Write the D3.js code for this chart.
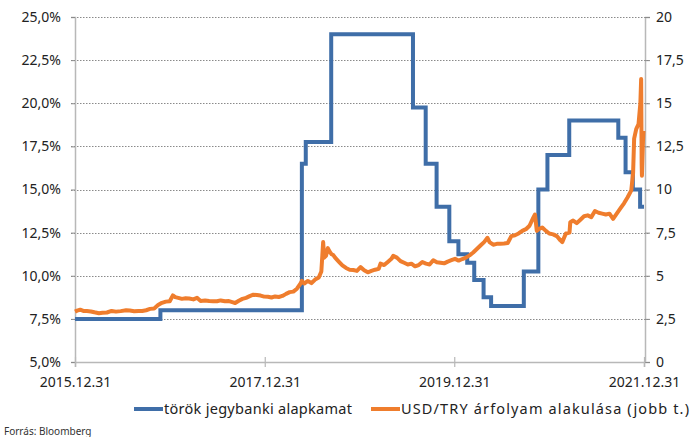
<!DOCTYPE html>
<meta charset="utf-8">
<script src="https://d3js.org/d3.v7.min.js"></script>
<style>
  body { margin: 0; background: #fff; }
  text { font-family: "Noto Sans", sans-serif; fill: #222; }
  .grid line { stroke: #8a8a8a; stroke-width: 1; stroke-dasharray: 1.5,1.5; }
  .axisline { stroke: #b8b8b8; stroke-width: 1.5; }
  .tick-lbl { font-size: 14px; }
  .legend { font-size: 14.5px; }
  .src { font-size: 10px; fill: #333; }
</style>
<div id="chart"></div>
<script>
// jegybanki alapkamat (%), kamatdöntések dátumai
const rateDates = ["2015-12-31","2016-11-24","2018-05-23","2018-06-07","2018-09-13","2019-07-25","2019-09-12","2019-10-24","2019-12-12","2020-01-16","2020-02-19","2020-03-17","2020-04-22","2020-05-21","2020-09-24","2020-11-19","2020-12-24","2021-03-18","2021-09-23","2021-10-21","2021-11-18","2021-12-16","2021-12-31"];
const rates = [7.5,8,16.5,17.75,24,19.75,16.5,14,12,11.25,10.75,9.75,8.75,8.25,10.25,15,17,19,18,16,15,14,14];

// USD/TRY árfolyam (jobb tengely)
const fxDates = ["2015-12-31","2016-01-08","2016-01-20","2016-02-01","2016-02-15","2016-03-01","2016-03-15","2016-04-01","2016-04-15","2016-05-02","2016-05-20","2016-06-06","2016-06-24","2016-07-15","2016-07-29","2016-08-15","2016-09-01","2016-09-15","2016-09-30","2016-10-15","2016-10-31","2016-11-15","2016-11-30","2016-12-15","2016-12-30",
"2017-01-11","2017-01-20","2017-02-01","2017-02-15","2017-03-01","2017-03-15","2017-03-31","2017-04-14","2017-04-28","2017-05-15","2017-05-31","2017-06-15","2017-06-30","2017-07-14","2017-07-31","2017-08-15","2017-08-31","2017-09-08","2017-09-22","2017-10-06","2017-10-20","2017-11-03","2017-11-17","2017-12-01","2017-12-15","2017-12-29",
"2018-01-12","2018-01-26","2018-02-09","2018-02-23","2018-03-09","2018-03-23","2018-04-06","2018-04-20","2018-05-04","2018-05-18","2018-05-23","2018-06-01","2018-06-15","2018-06-29","2018-07-13","2018-07-27","2018-08-06","2018-08-13","2018-08-17","2018-08-24","2018-08-31","2018-09-07","2018-09-14","2018-09-21","2018-09-28","2018-10-12","2018-10-26","2018-11-09","2018-11-23","2018-12-07","2018-12-21",
"2019-01-04","2019-01-18","2019-02-01","2019-02-15","2019-03-01","2019-03-15","2019-03-22","2019-04-05","2019-04-19","2019-05-03","2019-05-10","2019-05-24","2019-06-07","2019-06-21","2019-07-05","2019-07-19","2019-08-02","2019-08-16","2019-08-30","2019-09-13","2019-09-27","2019-10-11","2019-10-25","2019-11-08","2019-11-22","2019-12-06","2019-12-20",
"2020-01-03","2020-01-17","2020-01-31","2020-02-14","2020-02-28","2020-03-13","2020-03-27","2020-04-10","2020-04-24","2020-05-07","2020-05-15","2020-05-29","2020-06-12","2020-06-26","2020-07-10","2020-07-24","2020-08-07","2020-08-21","2020-09-04","2020-09-18","2020-10-02","2020-10-16","2020-10-30","2020-11-06","2020-11-13","2020-11-20","2020-12-04","2020-12-18","2020-12-31",
"2021-01-15","2021-01-29","2021-02-12","2021-02-19","2021-03-05","2021-03-19","2021-03-22","2021-04-02","2021-04-16","2021-04-30","2021-05-14","2021-05-28","2021-06-11","2021-06-25","2021-07-09","2021-07-23","2021-08-06","2021-08-20","2021-09-03","2021-09-17","2021-10-01","2021-10-15","2021-10-29","2021-11-12","2021-11-19","2021-11-23","2021-12-01","2021-12-10","2021-12-17","2021-12-20","2021-12-22","2021-12-23","2021-12-27","2021-12-29"];
const fxValues = [2.92,2.98,3.03,2.96,2.95,2.93,2.88,2.83,2.86,2.87,2.96,2.92,2.95,3.00,2.98,2.94,2.96,2.96,3.00,3.08,3.10,3.30,3.43,3.50,3.52,
3.86,3.76,3.72,3.66,3.69,3.68,3.63,3.72,3.54,3.56,3.53,3.52,3.52,3.57,3.52,3.53,3.46,3.42,3.55,3.66,3.72,3.82,3.90,3.88,3.85,3.79,
3.78,3.74,3.80,3.77,3.83,3.95,4.05,4.08,4.25,4.55,4.70,4.55,4.70,4.57,4.78,4.90,5.25,6.95,6.05,6.15,6.60,6.40,6.25,6.20,6.05,5.82,5.60,5.45,5.35,5.33,5.28,
5.50,5.32,5.20,5.28,5.35,5.40,5.70,5.62,5.80,5.98,6.15,6.05,5.85,5.75,5.65,5.70,5.55,5.62,5.80,5.70,5.65,5.90,5.78,5.75,5.72,5.82,5.90,
5.98,5.88,5.97,6.05,6.18,6.35,6.55,6.75,6.95,7.20,6.95,6.80,6.85,6.86,6.87,6.90,7.30,7.35,7.45,7.60,7.70,7.90,8.35,8.55,7.60,7.70,7.80,7.60,7.45,
7.40,7.30,7.05,6.95,7.45,7.50,8.10,8.20,8.05,8.25,8.45,8.50,8.40,8.75,8.65,8.60,8.55,8.60,8.30,8.60,8.90,9.20,9.55,9.95,10.95,12.95,13.50,13.80,15.00,16.40,11.50,10.80,12.80,13.40];

const leftTicks = [5,7.5,10,12.5,15,17.5,20,22.5,25];
const rightTicks = [0,2.5,5,7.5,10,12.5,15,17.5,20];
const xTickDates = ["2015-12-31","2017-12-31","2019-12-31","2021-12-31"];
const seriesNames = ["török jegybanki alapkamat", "USD/TRY árfolyam alakulása (jobb t.)"];
const colors = ["#3f6ea8", "#ef7d2d"];

const W = 693, H = 437;
const parse = d3.timeParse("%Y-%m-%d");
const fmtDate = d3.timeFormat("%Y.%m.%d");
const fmtLeft = v => d3.format(".1f")(v).replace(".", ",") + "%";
const fmtRight = v => (v % 1 === 0 ? String(v) : String(v).replace(".", ","));

const x = d3.scaleTime().domain([parse("2015-12-31"), parse("2021-12-31")]).range([75, 644]);
const yL = d3.scaleLinear().domain([5, 25]).range([362, 17]);
const yR = d3.scaleLinear().domain([0, 20]).range([362, 17]);

const svg = d3.select("#chart").append("svg").attr("width", W).attr("height", H);

// gridlines
svg.append("g").attr("class", "grid")
  .selectAll("line").data(leftTicks.slice(1)).join("line")
  .attr("x1", 71).attr("x2", 650)
  .attr("y1", d => Math.round(yL(d)) + 0.5).attr("y2", d => Math.round(yL(d)) + 0.5);

// axes
const axL = svg.append("g").attr("transform", "translate(75,0)")
  .call(d3.axisLeft(yL).tickValues(leftTicks).tickFormat(fmtLeft).tickSize(4).tickPadding(10));
const axR = svg.append("g").attr("transform", "translate(645,0)")
  .call(d3.axisRight(yR).tickValues(rightTicks).tickFormat(fmtRight).tickSize(5).tickPadding(6));
const axB = svg.append("g").attr("transform", "translate(0,362)")
  .call(d3.axisBottom(x).tickValues(xTickDates.map(parse)).tickFormat(fmtDate).tickSize(5).tickPadding(10));
axB.selectAll(".tick line").attr("y1", -5);

[axL, axR, axB].forEach(a => {
  a.select(".domain").attr("class", "axisline");
  a.selectAll(".tick line").attr("stroke", "#b8b8b8").attr("stroke-width", 1.2);
  a.selectAll(".tick text").attr("class", "tick-lbl").attr("fill", "#222");
});
axL.selectAll(".tick line").attr("stroke", "#8a8a8a").attr("stroke-width", 1);
axR.selectAll(".tick line").attr("stroke", "#8a8a8a").attr("stroke-width", 1);

// lines
const rateData = rateDates.map((d, i) => ({ date: parse(d), v: rates[i] }));
const fxData = fxDates.map((d, i) => ({ date: parse(d), v: fxValues[i] }));

svg.append("path").datum(rateData)
  .attr("fill", "none").attr("stroke", colors[0]).attr("stroke-width", 4)
  .attr("d", d3.line().curve(d3.curveStepAfter).x(d => x(d.date)).y(d => yL(d.v)));

svg.append("path").datum(fxData)
  .attr("fill", "none").attr("stroke", colors[1]).attr("stroke-width", 4)
  .attr("stroke-linejoin", "round")
  .attr("d", d3.line().x(d => x(d.date)).y(d => yR(d.v)));

// legend
const leg = [{ x: 134, i: 0, w: 188 }, { x: 371, i: 1, w: 288 }];
leg.forEach(l => {
  svg.append("line").attr("x1", l.x).attr("x2", l.x + 29).attr("y1", 409).attr("y2", 409)
    .attr("stroke", colors[l.i]).attr("stroke-width", 4);
  svg.append("text").attr("class", "legend").attr("x", l.x + 30).attr("y", 414)
    .attr("textLength", l.w).attr("lengthAdjust", "spacing").text(seriesNames[l.i]);
});

svg.append("text").attr("class", "src").attr("x", 4).attr("y", 435).text("Forrás: Bloomberg");
</script>
